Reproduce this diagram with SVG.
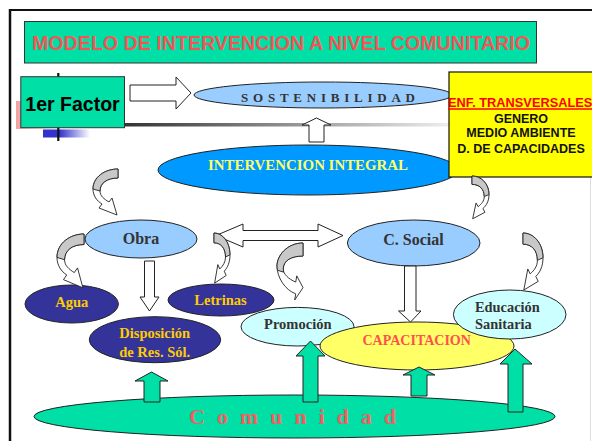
<svg xmlns="http://www.w3.org/2000/svg" xmlns:xlink="http://www.w3.org/1999/xlink" width="592" height="441" viewBox="0 0 592 441">
<style>
.sans{font-family:"Liberation Sans",Arial,sans-serif;font-weight:bold}
.serif{font-family:"Liberation Serif","Times New Roman",serif;font-weight:bold}
.ol{stroke:#222;stroke-width:1}
.wa{fill:#fff;stroke:#222;stroke-width:1}
.ga{fill:#00DFA6;stroke:#222;stroke-width:1}
.ca path{vector-effect:non-scaling-stroke;stroke:#222;stroke-width:0.9}
</style>
<defs>
<linearGradient id="gLine" x1="0" y1="0" x2="1" y2="0">
<stop offset="0" stop-color="#333"/><stop offset="1" stop-color="#eee"/>
</linearGradient>
<linearGradient id="gBlue" x1="0" y1="0" x2="1" y2="0">
<stop offset="0" stop-color="#3333CC"/><stop offset="0.35" stop-color="#3333CC"/><stop offset="1" stop-color="#fff"/>
</linearGradient>
<linearGradient id="gPink" x1="0" y1="0" x2="1" y2="0">
<stop offset="0" stop-color="#F2A0A0"/><stop offset="1" stop-color="#fff"/>
</linearGradient>
<g id="curl" class="ca">
<path fill="#fff" d="M25,0 C12,0 0,8 0,20 C0,27 4,32 9,35 L6,39 L24,46 L19,29 L16,33 C11,30 7,27 7,22 C7,14 14,9 25,9 Z"/>
<path fill="#C8C8C8" d="M25,0 C12,0 0,8 0,20 L7,22 C7,14 14,9 25,9 Z"/>
</g>
<g id="curlB" class="ca">
<path fill="#fff" d="M25,0 C10,0 0,10 0,18.5 C0,28 8,38 18,41 L17,46 L25,36 L19,26.5 L18,31.5 C11,29 6,25 6,21 C6,14 14,10.5 25,10.5 Z"/>
<path fill="#C8C8C8" d="M25,0 C10,0 0,10 0,18.5 C0,19.5 0.2,21 0.5,22 L6.3,23.5 C6.1,22.6 6,21.8 6,21 C6,14 14,10.5 25,10.5 Z"/>
</g>
</defs>
<rect x="0" y="0" width="592" height="441" fill="#fff"/>
<g id="frame">
<line x1="9" y1="10" x2="592" y2="10" stroke="#111" stroke-width="2"/>
<line x1="10" y1="9" x2="10" y2="441" stroke="#111" stroke-width="2.5"/>
<line x1="590.5" y1="177" x2="590.5" y2="441" stroke="#ddd" stroke-width="1"/>
</g>
<g id="title">
<rect x="24.5" y="21.5" width="512" height="41.5" fill="#00DFA6" stroke="#333" stroke-width="1"/>
<text x="32" y="50" class="sans" font-size="20" fill="#F25555" textLength="498" lengthAdjust="spacingAndGlyphs">MODELO DE INTERVENCION A NIVEL COMUNITARIO</text>
</g>
<g id="deco">
<rect x="16" y="101" width="40" height="28" fill="url(#gPink)"/>
<rect x="43" y="129.5" width="47" height="8" fill="url(#gBlue)"/>
<rect x="124" y="123" width="325" height="3.5" fill="url(#gLine)"/>
<line x1="58.3" y1="73" x2="58.3" y2="141" stroke="#111" stroke-width="2.2"/>
</g>
<g id="factor">
<rect x="20.8" y="76.7" width="103.7" height="51" fill="#00DFA6" stroke="#333" stroke-width="1"/>
<text x="72.5" y="110.5" class="sans" font-size="19.5" fill="#000" text-anchor="middle">1er Factor</text>
</g>
<g id="sostenibilidad">
<ellipse cx="323" cy="95" rx="129" ry="13" fill="#99CCFF" class="ol"/>
<text x="241" y="101.5" class="serif" font-size="13" fill="#333" textLength="174" lengthAdjust="spacing">SOSTENIBILIDAD</text>
</g>
<g id="intervencion">
<ellipse cx="308" cy="170" rx="150" ry="25" fill="#0099FF" class="ol"/>
<text x="208" y="169.5" class="serif" font-size="14" fill="#FFFF66" textLength="200" lengthAdjust="spacingAndGlyphs">INTERVENCION  INTEGRAL</text>
</g>
<g id="transversales">
<rect x="449" y="72" width="150" height="105" fill="#FFFF00" stroke="#111" stroke-width="1.2"/>
<text x="448" y="106.5" class="sans" font-size="12.8" fill="#FF0000">ENF. TRANSVERSALES</text>
<line x1="448" y1="109" x2="592" y2="109" stroke="#FF0000" stroke-width="1.5"/>
<text x="521" y="123.3" class="sans" font-size="12.5" fill="#111" text-anchor="middle">GENERO</text>
<text x="521" y="137.3" class="sans" font-size="12.5" fill="#111" text-anchor="middle">MEDIO AMBIENTE</text>
<text x="521" y="152.7" class="sans" font-size="12.5" fill="#111" text-anchor="middle">D. DE CAPACIDADES</text>
</g>
<g id="obra">
<ellipse cx="141" cy="239" rx="56" ry="19" fill="#99CCFF" class="ol"/>
<text x="141" y="243.5" class="serif" font-size="16" fill="#333" text-anchor="middle">Obra</text>
</g>
<g id="csocial">
<ellipse cx="413.7" cy="243" rx="66.3" ry="23" fill="#99CCFF" class="ol"/>
<text x="413.5" y="244.5" class="serif" font-size="16" fill="#333" text-anchor="middle">C. Social</text>
</g>
<g id="agua">
<ellipse cx="71.7" cy="304" rx="46.7" ry="19" fill="#333399" class="ol"/>
<text x="71.7" y="306.7" class="serif" font-size="14.5" fill="#FFCC00" text-anchor="middle">Agua</text>
</g>
<g id="letrinas">
<ellipse cx="221" cy="300" rx="53" ry="16" fill="#333399" class="ol"/>
<text x="220.5" y="305" class="serif" font-size="14.5" fill="#FFCC00" text-anchor="middle">Letrinas</text>
</g>
<g id="disposicion">
<ellipse cx="155" cy="339.7" rx="65.7" ry="23" fill="#333399" class="ol"/>
<text x="154.7" y="338.3" class="serif" font-size="14.5" fill="#FFCC00" text-anchor="middle">Disposición</text>
<text x="154.7" y="356.7" class="serif" font-size="14.5" fill="#FFCC00" text-anchor="middle">de Res. Sól.</text>
</g>
<g id="promocion">
<ellipse cx="297.5" cy="326.7" rx="56.5" ry="19.3" fill="#CCFFFF" class="ol"/>
<text x="297.8" y="329.3" class="serif" font-size="14.5" fill="#333" text-anchor="middle">Promoción</text>
</g>
<g id="capacitacion">
<ellipse cx="417" cy="346" rx="97" ry="24" fill="#FFFF66" class="ol"/>
<text x="416.7" y="345" class="serif" font-size="14" fill="#FF5050" text-anchor="middle">CAPACITACION</text>
</g>
<g id="educacion">
<ellipse cx="509.7" cy="314.5" rx="56.3" ry="24.5" fill="#CCFFFF" class="ol"/>
<text x="475" y="311.7" class="serif" font-size="14.4" fill="#333">Educación</text>
<text x="475" y="329.3" class="serif" font-size="14.4" fill="#333">Sanitaria</text>
</g>
<g id="comunidad">
<ellipse cx="294.5" cy="416.5" rx="260.5" ry="21.5" fill="#00DFA6" class="ol"/>
<text x="189" y="423.5" class="serif" font-size="22" fill="#F06060" textLength="207" lengthAdjust="spacing">Comunidad</text>
</g>
<g id="connectors">
<polygon class="wa" points="130,85 176,85 176,77 191,93 176,109 176,101 130,101"/>
<polygon class="wa" points="316.5,118 331,125 324,125 324,142 309,142 309,125 302,125"/>
<polygon class="wa" points="216,235.5 243,224 243,230.5 318,230.5 318,224 343,235.5 318,247 318,240.5 243,240.5 243,247"/>
<polygon class="wa" points="144.5,261 154.5,261 154.5,297 159,297 149.5,311 140,297 144.5,297"/>
<polygon class="wa" points="404.5,266 416,266 416,311 421,311 410.5,322 398.5,311 404.5,311"/>
<use xlink:href="#curl" transform="translate(93,169)"/>
<use xlink:href="#curl" transform="translate(57,234) scale(1.08,1.17)"/>
<use xlink:href="#curlB" transform="translate(277,243) scale(1.04,1.24)"/>
<use xlink:href="#curl" transform="translate(230,233) scale(-0.64,1.09)"/>
<use xlink:href="#curl" transform="translate(489,176) scale(-0.68,0.93)"/>
<use xlink:href="#curl" transform="translate(543,233) scale(-0.8,1.24)"/>
<polygon class="ga" points="151.5,372 168,381 160,381 160,402 144,402 144,381 135,381"/>
<polygon class="ga" points="310.5,341 325,356 318,356 318,402 303,402 303,356 296,356"/>
<polygon class="ga" points="419,367 435,375 427,375 427,396 411,396 411,375 403,375"/>
<polygon class="ga" points="515,349 532,364 523,364 523,412 508,412 508,364 500,364"/>
</g>
</svg>
